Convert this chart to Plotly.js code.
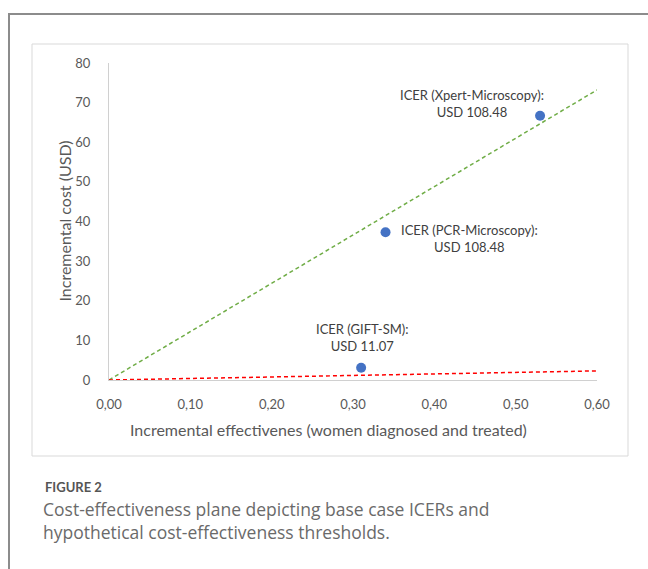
<!DOCTYPE html>
<html>
<head>
<meta charset="utf-8">
<script src="https://cdn.plot.ly/plotly-3.0.1.min.js"></script>
<style>
  html, body { margin: 0; padding: 0; background: #ffffff; }
  #chart { width: 648px; height: 569px; }
</style>
</head>
<body>
<div id="chart"></div>
<script>
// ---- Data ----
const strategies = ['GIFT-SM', 'PCR-Microscopy', 'Xpert-Microscopy'];
const effectiveness = [0.31, 0.34, 0.53];
const incrementalCost = [3.1, 37.3, 66.7];
const icerLabels = ['USD 11.07', 'USD 108.48', 'USD 108.48'];

const thresholdX = [0, 0.6];
const thresholdHighY = [0, 73.2];
const thresholdLowY = [0, 2.3];

const xTickVals = [0, 0.1, 0.2, 0.3, 0.4, 0.5, 0.6];
const yTickVals = [0, 10, 20, 30, 40, 50, 60, 70, 80];

const xTitle = 'Incremental effectivenes (women diagnosed and treated)';
const yTitle = 'Incremental cost (USD)';
const figureLabel = 'FIGURE 2';
const captionLines = [
  'Cost-effectiveness plane depicting base case ICERs and',
  'hypothetical cost-effectiveness thresholds.'
];

// ---- Layout geometry (pixels) ----
const W = 648, H = 569;
const L = 109, R = 597, T = 63, B = 380;
const px = x => (x - L) / (R - L);
const py = y => (B - y) / (B - T);

const FONT = 'Lato, "Open Sans", sans-serif';
const CAPFONT = '"Open Sans", Lato, sans-serif';

const traces = [
  {
    x: thresholdX, y: thresholdHighY, mode: 'lines', type: 'scatter',
    line: { color: '#70AD47', width: 1.5, dash: '4px,3px' }, hoverinfo: 'skip'
  },
  {
    x: thresholdX, y: thresholdLowY, mode: 'lines', type: 'scatter',
    line: { color: '#FF0000', width: 1.5, dash: '4px,3px' }, hoverinfo: 'skip'
  },
  {
    x: effectiveness, y: incrementalCost, mode: 'markers', type: 'scatter',
    marker: { color: '#4472C4', size: 10 }, text: strategies
  }
];

// label offsets (pixels) per point
const labelShift = [
  { xs: 1, ys: 30 },
  { xs: 84, ys: -6 },
  { xs: -68, ys: 12 }
];

const annotations = strategies.map((s, i) => ({
  x: effectiveness[i], y: incrementalCost[i], xref: 'x', yref: 'y',
  text: 'ICER (' + s + '):<br>' + icerLabels[i],
  showarrow: false, align: 'center',
  xshift: labelShift[i].xs, yshift: labelShift[i].ys,
  font: { family: FONT, size: 13, color: '#404040' }
}));

annotations.push({
  x: px(328), y: py(430), xref: 'paper', yref: 'paper',
  text: xTitle, showarrow: false, xanchor: 'center', yanchor: 'middle',
  font: { family: FONT, size: 16, color: '#595959' }
});
annotations.push({
  x: px(64), y: 0.5, xref: 'paper', yref: 'paper',
  text: yTitle, showarrow: false, textangle: -90, xanchor: 'center', yanchor: 'middle',
  font: { family: FONT, size: 16, color: '#595959' }
});
annotations.push({
  x: px(43), y: py(487), xref: 'paper', yref: 'paper',
  text: '<b>' + figureLabel + '</b>', showarrow: false, xanchor: 'left', yanchor: 'middle',
  font: { family: FONT, size: 13, color: '#555555' }
});
annotations.push({
  x: px(41), y: py(520), xref: 'paper', yref: 'paper',
  text: captionLines.join('<br>'), showarrow: false, align: 'left',
  xanchor: 'left', yanchor: 'middle',
  font: { family: CAPFONT, size: 17.5, color: '#6a6a6a' }
});

const shapes = [
  { type: 'rect', xref: 'paper', yref: 'paper', layer: 'below',
    x0: px(9), x1: px(700), y0: py(14), y1: py(640),
    line: { color: '#8c8c8c', width: 2 }, fillcolor: 'rgba(0,0,0,0)' },
  { type: 'rect', xref: 'paper', yref: 'paper', layer: 'below',
    x0: px(32), x1: px(628), y0: py(44), y1: py(456),
    line: { color: '#d9d9d9', width: 1 }, fillcolor: 'rgba(0,0,0,0)' }
];

const layout = {
  width: W, height: H,
  margin: { l: L, r: W - R, t: T, b: H - B, pad: 0 },
  paper_bgcolor: '#ffffff', plot_bgcolor: '#ffffff',
  showlegend: false,
  separators: ',.',
  font: { family: FONT, color: '#595959' },
  xaxis: {
    range: [0, 0.6], tickvals: xTickVals, tickformat: '.2f',
    showgrid: false, zeroline: false, showline: true, linecolor: '#d0d0d0', linewidth: 1,
    ticks: '', ticklabelstandoff: 12,
    tickfont: { family: FONT, size: 13, color: '#595959' }
  },
  yaxis: {
    range: [0, 80], tickvals: yTickVals,
    showgrid: false, zeroline: false, showline: true, linecolor: '#d0d0d0', linewidth: 1,
    ticks: '', ticklabelstandoff: 15,
    tickfont: { family: FONT, size: 13, color: '#595959' }
  },
  annotations: annotations,
  shapes: shapes
};

Plotly.newPlot('chart', traces, layout, { staticPlot: true, displayModeBar: false });
</script>
</body>
</html>
